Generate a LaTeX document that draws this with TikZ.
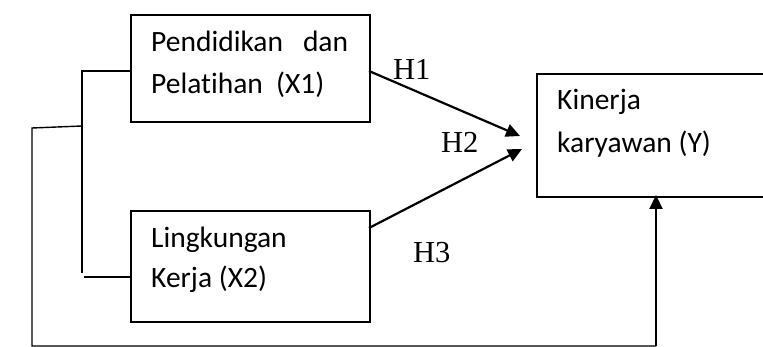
\documentclass[tikz,border=0pt]{standalone}
\usepackage{fontspec}
\setmainfont[Ligatures={NoCommon}]{Carlito}
\newfontfamily\hfont{Liberation Serif}
\usetikzlibrary{arrows.meta}
\begin{document}
\begin{tikzpicture}[x=1pt,y=-1pt,
  box/.style={draw=black,line width=1.6pt,inner sep=0pt,anchor=north west},
  lbl/.style={inner sep=0pt,anchor=base west,font=\fontsize{29.5}{34}\selectfont},
  hlbl/.style={inner sep=0pt,anchor=base west,font=\hfont\fontsize{30.5}{34}\selectfont},
  thin/.style={line width=1.4pt},
  arr/.style={line width=2.2pt,-{Triangle[length=14pt,width=13pt]}}]
\useasboundingbox (0,0) rectangle (763,347);
% boxes
\node[box,minimum width=239pt,minimum height=107pt] (x1) at (130,14) {};
\node[box,minimum width=239pt,minimum height=111pt] (x2) at (130,210) {};
\node[box,minimum width=235pt,minimum height=123pt] (y) at (536,73) {};
% texts
\node[lbl] (x1a) at (151,52) {\makebox[197pt][s]{Pendidikan\hfill dan}};
\node[lbl] (x1b) at (151,94) {Pelatihan\ \ (X1)};
\node[lbl] (x2a) at (151,248) {Lingkungan};
\node[lbl] (x2b) at (151,288) {Kerja (X2)};
\node[lbl] (ya) at (557,110) {Kinerja};
\node[lbl] (yb) at (557,153) {karyawan (Y)};
% hypothesis labels
\node[hlbl] (h1) at (393,80) {H1};
\node[hlbl] (h2) at (441,153) {H2};
\node[hlbl] (h3) at (413,263) {H3};
% connector points
\coordinate (a1s) at (369,71);
\coordinate (a1e) at (520,136);
\coordinate (a2s) at (369,228);
\coordinate (a2e) at (522,149);
\coordinate (bt) at (82,71);
\coordinate (bb) at (82,273);
\coordinate (b2l) at (84,277);
\coordinate (b2r) at (132,277);
\coordinate (bm) at (82,126);
\coordinate (lc) at (32,128);
\coordinate (lb) at (32,346);
\coordinate (rb) at (656,346);
\coordinate (ye) at (656,195);
% connectors
\draw[arr] (a1s) -- (a1e);
\draw[arr] (a2s) -- (a2e);
\draw[thin] (x1.west |- a1s) -- (bt) -- (bb);
\draw[thin] (b2l) -- (b2r);
\draw[thin] (bm) -- (lc) -- (lb) -- (rb);
\draw[arr] (rb) -- (ye);
\end{tikzpicture}
\end{document}
